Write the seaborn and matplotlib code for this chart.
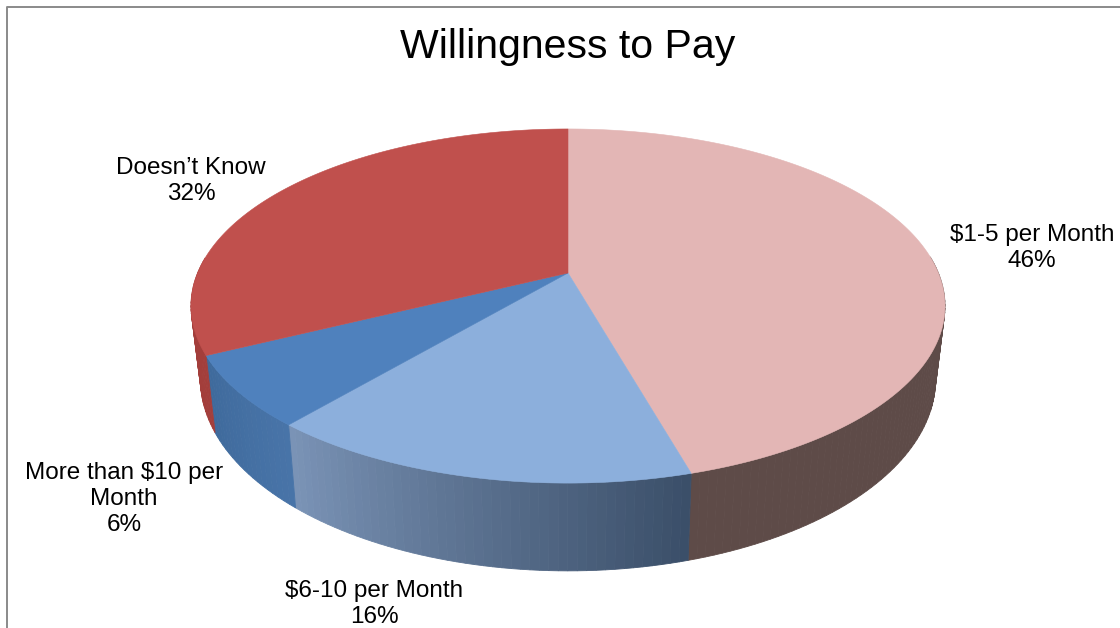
import numpy as np
import matplotlib
matplotlib.use("Agg")
import matplotlib.pyplot as plt
import seaborn as sns

title = "Willingness to Pay"
categories = ["$1-5 per Month", "$6-10 per Month", "More than $10 per\nMonth", "Doesn\u2019t Know"]
shares = [45.6, 15.6, 6.49, 32.31]
top_colors = ["#e3b6b5", "#8cafdc", "#4f81bd", "#c0504d"]
side_start = ["#5e4b48", "#7a93b6", "#4874a8", "#a33e3b"]
side_end = ["#5e4b48", "#3b4f69", "#3f6a9c", "#a33e3b"]
label_pos = [(1032, 248), (374, 604), (124, 499), (191, 181)]


def top_point(angle):
    # clockwise from 12 o'clock, flat disc seen in perspective
    u = np.sin(angle)
    v = -np.cos(angle)
    d = 1 - 0.1865 * v
    return 568 + 370.4 * u / d, 273 + 170.9 * v / d


def bottom_point(x, y):
    return 568 + (x - 568) * 0.975, y + 77 + 0.083 * (y - 353)


def main():
    sns.set_theme(style="white")
    plt.rcParams["font.family"] = ["Liberation Sans", "DejaVu Sans"]

    fig = plt.figure(figsize=(11.2, 6.28), dpi=100)
    ax = fig.add_axes([0, 0, 1, 1])
    ax.set_xlim(0, 1120)
    ax.set_ylim(628, 0)
    ax.axis("off")

    edges = np.cumsum([0] + shares) / sum(shares) * 2 * np.pi

    # side wall first, the top face covers what is left of it
    for i in range(len(shares)):
        n = max(int(shares[i] * 3), 4)
        angles = np.linspace(edges[i], edges[i + 1], n + 1)
        strip_colors = sns.blend_palette([side_start[i], side_end[i]], n)
        if i == 1:
            strip_colors = strip_colors[::-1]
        for j in range(n):
            # back of the rim is never seen
            if np.cos((angles[j] + angles[j + 1]) / 2) > 0.1:
                continue
            x0, y0 = top_point(angles[j])
            x1, y1 = top_point(angles[j + 1])
            x2, y2 = bottom_point(x1, y1)
            x3, y3 = bottom_point(x0, y0)
            ax.fill([x0, x1, x2, x3], [y0, y1, y2, y3], color=strip_colors[j], lw=0.6, zorder=2)

    for i in range(len(shares)):
        angles = np.linspace(edges[i], edges[i + 1], 200)
        xs, ys = top_point(angles)
        ax.fill(np.r_[568, xs], np.r_[273, ys], color=top_colors[i], lw=0.4, zorder=3)

    for i in range(len(shares)):
        ax.text(label_pos[i][0], label_pos[i][1], "%s\n%d%%" % (categories[i], round(shares[i])),
                ha="center", va="center", fontsize=17.5, color="black", linespacing=1.25, zorder=4)

    ax.text(568, 47, title, ha="center", va="center", fontsize=29.5, color="black", zorder=4)

    # chart area frame, cut by the screenshot on the right and bottom
    ax.plot([6.5, 6.5, 1120], [628, 6.5, 6.5], color="#8a8a8a", lw=1.4, zorder=1)

    fig.savefig("out.png", dpi=100)


if __name__ == "__main__":
    main()
